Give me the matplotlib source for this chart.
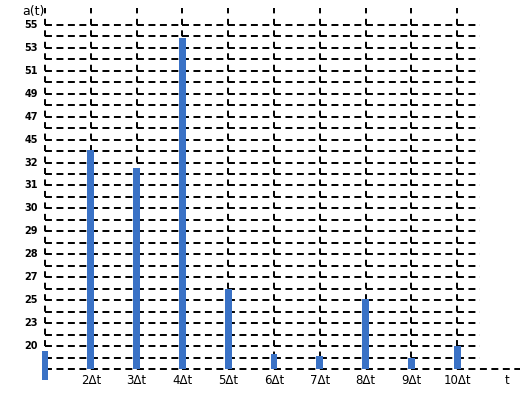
import matplotlib.pyplot as plt

plt.rcParams['lines.scale_dashes'] = False

# grid rows (index 0 = bottom line), labels on every second row
y_labels = ['20', '23', '25', '27', '28', '29', '30', '31', '32',
            '45', '47', '49', '51', '53', '55']
y_label_rows = list(range(2, 31, 2))
n_rows = 31

# bars: position in steps of dt, height in grid rows
bar_pos = [1, 2, 3, 4, 5, 6, 7, 8, 9, 10]
bar_top = [1.6, 19.1, 17.5, 28.9, 7.0, 1.3, 1.1, 6.1, 1.0, 2.0]
bar_bottom = [-1.0, 0, 0, 0, 0, 0, 0, 0, 0, 0]
x_labels = ['', '2Δt', '3Δt', '4Δt', '5Δt', '6Δt', '7Δt', '8Δt', '9Δt', '10Δt']

px_x = 45.8   # pixels per dt
px_y = 11.47  # pixels per row

fig = plt.figure(figsize=(5.21, 3.93), dpi=100)
ax = fig.add_axes([0, 0, 1, 1])
ax.set_xlim(1 - 45 / px_x, 1 + 476 / px_x)
ax.set_ylim((369 - 393) / px_y, 369 / px_y)
ax.axis('off')

h_dash = (0, (5.0, 3.25))
v_dash = (0, (4.3, 3.96))
lw = 1.4

# horizontal dashed grid, restarted at every vertical line
for r in range(0, n_rows):
    for p in bar_pos[:-1]:
        ax.hlines(r, p, p + 1, colors='black', linewidth=lw, linestyles=h_dash)
    end = 1 + (475 if r == 0 else 435) / px_x
    ax.hlines(r, bar_pos[-1], end, colors='black', linewidth=lw, linestyles=h_dash)

# vertical dashed lines
for p in bar_pos:
    ax.vlines(p, 0, (369 - 8) / px_y, colors='black', linewidth=lw, linestyles=v_dash)

# bars
for p, top, bot in zip(bar_pos, bar_top, bar_bottom):
    ax.bar(p, top - bot, bottom=bot, width=0.15, color='#3a72c6', zorder=3)

# labels
for r, lab in zip(y_label_rows, y_labels):
    ax.text(1 - 7 / px_x, r, lab, ha='right', va='center', fontsize=7,
            fontweight='bold')
for p, lab in zip(bar_pos, x_labels):
    ax.text(p, -12 / px_y, lab, ha='center', va='center', fontsize=8.5)
ax.text(1 + 462 / px_x, -12 / px_y, 't', ha='center', va='center', fontsize=8.5)
ax.text(1 - 12 / px_x, (369 - 12) / px_y, 'a(t)', ha='center', va='center', fontsize=9)

fig.savefig('out.png', dpi=100)
